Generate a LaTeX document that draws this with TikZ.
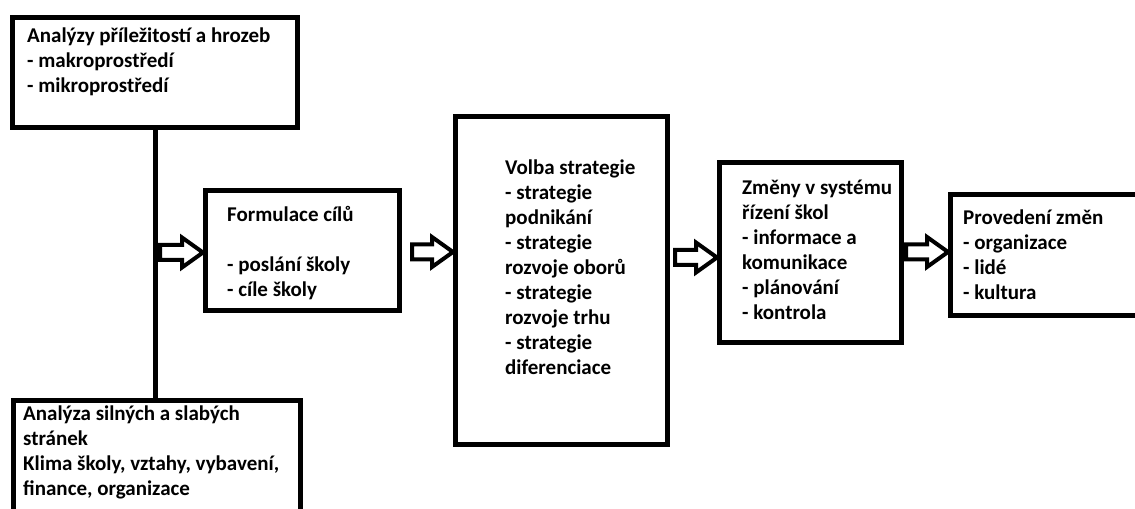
\documentclass[tikz,border=0pt]{standalone}
\usepackage{fontspec}
\setmainfont{Carlito}
\usetikzlibrary{calc}
\begin{document}
\begin{tikzpicture}[x=1bp,y=-1bp,
  box/.style={draw, line width=5bp, inner sep=0pt, outer sep=2.5bp},
  txt/.style={inner sep=0pt, anchor=base west, align=left,
    font=\fontsize{21bp}{25bp}\selectfont\bfseries},
  link/.style={line width=5bp},
  blockarrow/.style={line width=4bp, line join=miter, fill=white,
    to path={let \p1=(\tikztostart), \p2=(\tikztotarget) in
      (\x1,\y1+7.5bp) -- (\x2-21bp,\y1+7.5bp) -- (\x2-21bp,\y1+15bp)
      -- (\x2,\y1) -- (\x2-21bp,\y1-15bp) -- (\x2-21bp,\y1-7.5bp)
      -- (\x1,\y1-7.5bp) -- cycle}}]
\useasboundingbox (0,0) rectangle (1135,509);
\fill[white] (0,0) rectangle (1135,509);

% boxes
\node[box, minimum width=285bp, minimum height=110bp] (opp) at (155,72.5) {};
\node[box, minimum width=286.5bp, minimum height=150bp] (str) at (157.25,475.5) {};
\node[box, minimum width=194bp, minimum height=120bp] (form) at (302.5,250.5) {};
\node[box, minimum width=211.5bp, minimum height=328bp] (vol) at (561.25,280.5) {};
\node[box, minimum width=182bp, minimum height=180bp] (zm) at (810.5,252.5) {};
\node[box, minimum width=220bp, minimum height=120.5bp] (prov) at (1060.5,255.25) {};

% texts
\node[txt] (opptx) at (27,43) {\parbox[t]{270bp}{Analýzy příležitostí a hrozeb\\
- makroprostředí\\
- mikroprostředí}};
\node[txt] (strtx) at (23,420) {\parbox[t]{275bp}{Analýza silných a slabých\\
stránek\\
Klima školy, vztahy, vybavení,\\
finance, organizace}};
\node[txt] (formtx) at (227,222) {\parbox[t]{170bp}{Formulace cílů\\
\mbox{}\\
- poslání školy\\
- cíle školy}};
\node[txt] (voltx) at (505,175) {\parbox[t]{160bp}{Volba strategie\\
- strategie\\
podnikání\\
- strategie\\
rozvoje oborů\\
- strategie\\
rozvoje trhu\\
- strategie\\
diferenciace}};
\node[txt] (zmtx) at (742,195) {\parbox[t]{160bp}{Změny v systému\\
řízení škol\\
- informace a\\
komunikace\\
- plánování\\
- kontrola}};
\node[txt] (provtx) at (963,225) {\parbox[t]{170bp}{Provedení změn\\
- organizace\\
- lidé\\
- kultura}};

% vertical link between the two analyses
\draw[link] (opp.south) -- (opp.south |- str.north);

% block arrows
\coordinate (a1s) at (160,252.5);
\coordinate (a2s) at (412,252);
\coordinate (a3s) at (675,257.5);
\coordinate (a4s) at (906,252);
\draw[blockarrow] (a1s) to (form.west |- a1s);
\draw[blockarrow] (a2s) to (vol.west |- a2s);
\draw[blockarrow] (a3s) to (zm.west |- a3s);
\draw[blockarrow] (a4s) to (prov.west |- a4s);
\end{tikzpicture}
\end{document}
